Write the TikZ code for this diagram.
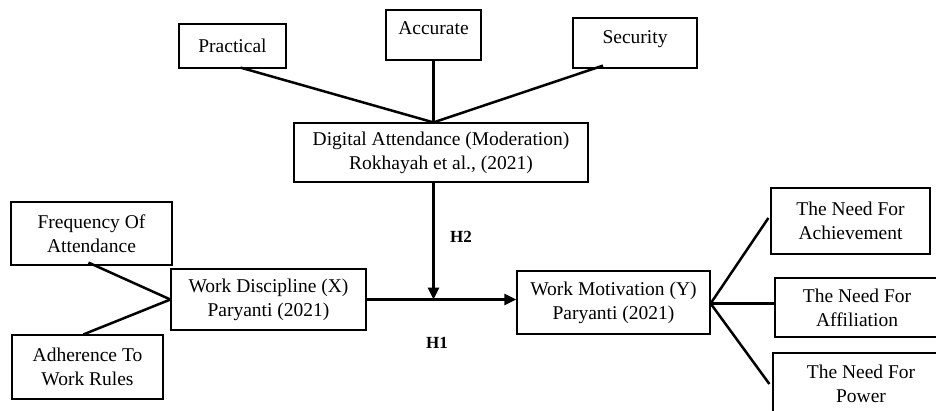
\documentclass[tikz,border=0pt]{standalone}
\usepackage{fontspec}
\setmainfont{Liberation Serif}
\usetikzlibrary{arrows.meta,calc}

\tikzset{
  box/.style={draw=black, line width=1.2pt, rectangle, align=center, inner sep=0pt,
    font=\fontsize{19.5}{24}\selectfont},
  link/.style={draw=black, line width=2.5pt},
  arr/.style={link, -{Triangle[length=12pt,width=11pt]}},
  hyp/.style={font=\fontsize{17}{19}\selectfont\bfseries},
}

\begin{document}
\begin{tikzpicture}[x=1pt, y=-1pt]
  \useasboundingbox (0,0) rectangle (936,410);
  \clip (0,0) rectangle (936,410);

  % moderator indicators
  \node[box, minimum width=107pt, minimum height=44pt] (prac) at (232.5,46) {Practical};
  \node[box, minimum width=95pt, minimum height=50pt, text depth=14pt] (acc) at (433.5,35) {Accurate};
  \node[box, minimum width=124pt, minimum height=50pt, text depth=11pt] (sec) at (635,43) {Security};

  % moderator
  \node[box, minimum width=294pt, minimum height=59pt] (dig) at (441,152.5)
    {Digital Attendance (Moderation)\\Rokhayah et al., (2021)};

  % independent variable and indicators
  \node[box, minimum width=161pt, minimum height=63pt] (freq) at (91.5,233.5) {Frequency Of\\Attendance};
  \node[box, minimum width=151pt, minimum height=64pt] (adh) at (87.5,367) {Adherence To\\Work Rules};
  \node[box, minimum width=195pt, minimum height=61pt] (wd) at (268.5,299.5) {Work Discipline (X)\\Paryanti (2021)};

  % dependent variable and indicators
  \node[box, minimum width=193pt, minimum height=63pt] (wm) at (613.5,302.5) {Work Motivation (Y)\\Paryanti (2021)};
  \node[box, minimum width=159pt, minimum height=66pt] (ach) at (850.5,221) {The Need For\\Achievement};
  \node[box, minimum width=164pt, minimum height=59pt] (aff) at (857,307.5) {The Need For\\Affiliation};
  \node[box, minimum width=176pt, minimum height=62pt] (pow) at (861,384) {The Need For\\Power};

  % junction points
  \coordinate (top) at (dig.north -| acc.south);
  \coordinate (bot) at (dig.south -| acc.south);
  \coordinate (mid) at (wd.east -| acc.south);

  % indicator links
  \draw[link] ([xshift=8pt, yshift=1pt]prac.south) -- (top);
  \draw[link] (acc.south) -- (top);
  \draw[link] ([xshift=-32pt, yshift=3pt]sec.south) -- (top);

  \draw[link] ([xshift=-3pt, yshift=3pt]freq.south) -- (wd.west);
  \draw[link] ([xshift=-4pt]adh.north) -- (wd.west);

  \draw[link] ([yshift=-1pt]wm.east) -- ([xshift=-2pt, yshift=3pt]ach.west);
  \draw[link] ([yshift=-1pt]wm.east) -- ([yshift=-1pt]wm.east -| aff.west);
  \draw[link] ([yshift=-1pt]wm.east) -- ([xshift=-3pt]pow.west);

  % hypotheses
  \draw[arr] (wd.east) -- (wd.east -| wm.west);
  \draw[arr] (bot) -- (mid);

  \node[hyp] (h2) at (461,237) {H2};
  \node[hyp] (h1) at (437,343) {H1};
\end{tikzpicture}
\end{document}
